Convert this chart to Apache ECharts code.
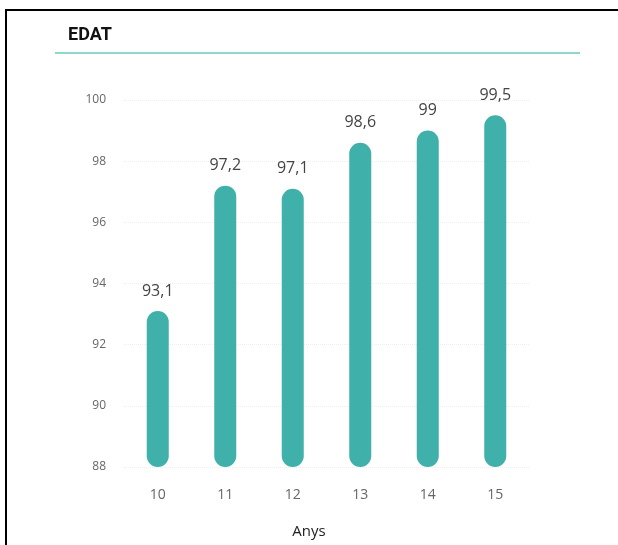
<!DOCTYPE html>
<html><head><meta charset="utf-8">
<script src="https://cdn.jsdelivr.net/npm/echarts@6/dist/echarts.min.js"></script>
<style>html,body{margin:0;padding:0;background:#fff}#c{width:618px;height:545px}</style>
</head><body><div id="c"></div>
<script>
var categories = ['10', '11', '12', '13', '14', '15'];
var values = [93.1, 97.2, 97.1, 98.6, 99, 99.5];
var yTicks = [88, 90, 92, 94, 96, 98, 100];
var titleText = 'EDAT';
var xName = 'Anys';

var chart = echarts.init(document.getElementById('c'), null, {renderer: 'canvas'});
chart.setOption({
  backgroundColor: '#ffffff',
  animation: false,
  title: {
    text: titleText, left: 63, top: 21,
    textStyle: {fontFamily: 'Roboto', fontWeight: 'bold', fontSize: 18, color: '#111'}
  },
  graphic: [
    {type: 'rect', shape: {x: 6, y: 10, width: 800, height: 800}, style: {fill: 'none', stroke: '#000', lineWidth: 2}, silent: true},
    {type: 'line', shape: {x1: 55, y1: 53, x2: 580, y2: 53}, style: {stroke: '#8fd8cc', lineWidth: 2}, silent: true},
    {type: 'text', left: 'center', top: 524, style: {text: xName, font: '15px "Open Sans"', fill: '#222'}}
  ],
  grid: {left: 124, right: 89, top: 100, bottom: 78, containLabel: false},
  xAxis: {
    type: 'category', data: categories,
    axisLine: {show: false}, axisTick: {show: false},
    axisLabel: {margin: 21, fontFamily: 'Open Sans', fontSize: 14, color: '#666'}
  },
  yAxis: {
    type: 'value', min: yTicks[0], max: yTicks[yTicks.length - 1], interval: 2,
    axisLine: {show: false}, axisTick: {show: false},
    axisLabel: {margin: 18, fontFamily: 'Open Sans', fontSize: 12, color: '#666'},
    splitLine: {show: true, lineStyle: {color: '#eeeeee', type: 'dotted'}}
  },
  series: [{
    type: 'bar', data: values, barWidth: 22,
    itemStyle: {color: '#3fb0aa', borderRadius: 11},
    label: {
      show: true, position: 'top', distance: 12,
      fontFamily: 'Open Sans', fontSize: 16, color: '#444',
      formatter: function (p) { return String(p.value).replace('.', ','); }
    }
  }]
});
</script></body></html>
